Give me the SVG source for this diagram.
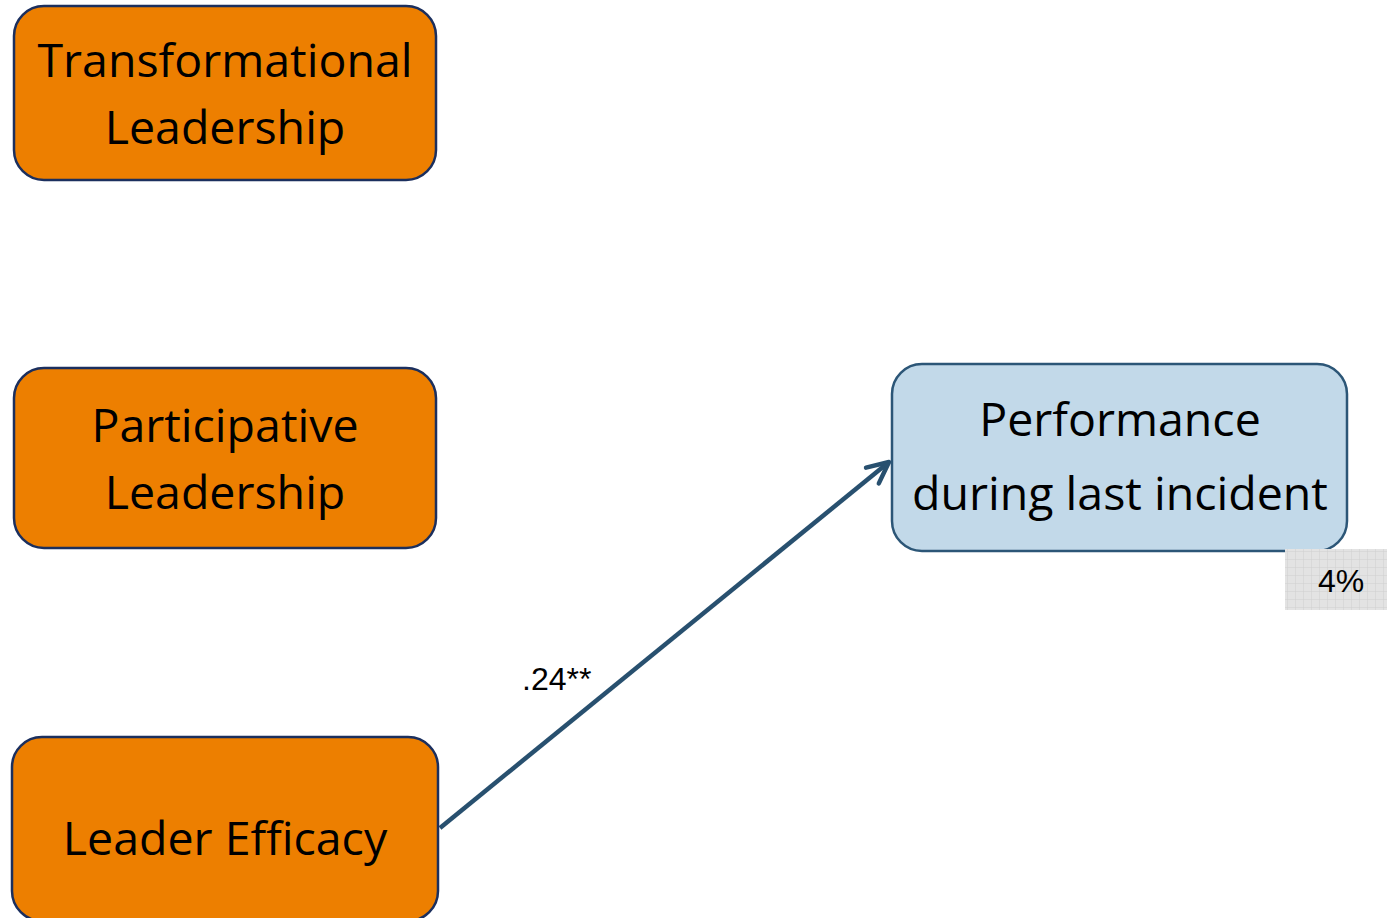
<svg xmlns="http://www.w3.org/2000/svg" width="1387" height="918" viewBox="0 0 1387 918">
  <defs>
    <style>
      .src { fill: #ED7F00; stroke: #1B2F5E; stroke-width: 2.5; }
      .out { fill: #C2D9E9; stroke: #2C5677; stroke-width: 2.5; }
      .lbl { font-family: "Open Sans", "Noto Sans", sans-serif; font-size: 46.5px; fill: #000; text-anchor: middle; }
      .coef { font-family: "Liberation Sans", Arial, sans-serif; font-size: 32px; fill: #000; }
      .edge { stroke: #28506F; stroke-width: 4.5; fill: none; }
    </style>
    <pattern id="grid" width="8" height="8" patternUnits="userSpaceOnUse">
      <rect width="8" height="8" fill="#E3E3E3"/>
      <path d="M8 0V8M0 8H8" stroke="#CFCFCF" stroke-width="1"/>
    </pattern>
    <marker id="open" viewBox="0 0 12 12" refX="11" refY="6" markerWidth="6" markerHeight="6" orient="auto" markerUnits="strokeWidth">
      <path d="M1.5 1.5L11 6L1.5 10.5" fill="none" stroke="#28506F" stroke-width="2" stroke-linecap="round" stroke-linejoin="round"/>
    </marker>
  </defs>

  <rect width="1387" height="918" fill="#FFFFFF"/>

  <g id="connectors">
    <line class="edge" x1="440" y1="828" x2="889" y2="462" marker-end="url(#open)"/>
    <text class="coef" x="522" y="690">.24**</text>
  </g>

  <g id="transformational">
    <rect class="src" x="14" y="6" width="422" height="174" rx="30"/>
    <text class="lbl" x="225" y="77">Transformational</text>
    <text class="lbl" x="225" y="144">Leadership</text>
  </g>

  <g id="participative">
    <rect class="src" x="14" y="368" width="422" height="180" rx="30"/>
    <text class="lbl" x="225" y="442">Participative</text>
    <text class="lbl" x="225" y="509">Leadership</text>
  </g>

  <g id="efficacy">
    <rect class="src" x="12" y="737" width="426" height="184" rx="30"/>
    <text class="lbl" x="225" y="855">Leader Efficacy</text>
  </g>

  <g id="performance">
    <rect class="out" x="892" y="364" width="455" height="187" rx="30"/>
    <text class="lbl" x="1120" y="436">Performance</text>
    <text class="lbl" x="1120" y="510">during last incident</text>
  </g>

  <g id="variance">
    <rect x="1285" y="549" width="102" height="61" fill="url(#grid)"/>
    <text class="coef" x="1318" y="592">4%</text>
  </g>
</svg>
